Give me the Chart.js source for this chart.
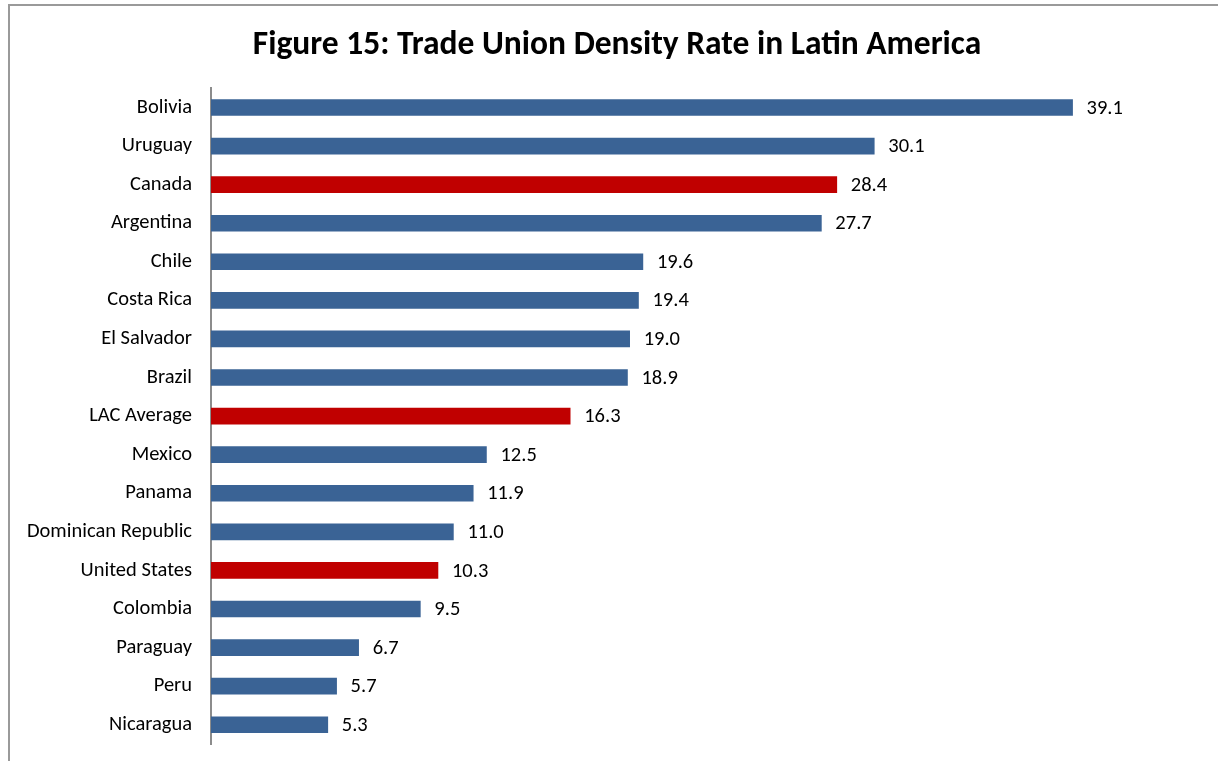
<!DOCTYPE html>
<html>
<head>
<meta charset="utf-8">
<script src="https://cdn.jsdelivr.net/npm/chart.js@4"></script>
<style>
html,body{margin:0;padding:0;background:#fff;}
#wrap{position:relative;width:1218px;height:761px;}
</style>
</head>
<body>
<div id="wrap"><canvas id="c" width="1218" height="761"></canvas></div>
<script>
const categories = ["Bolivia","Uruguay","Canada","Argentina","Chile","Costa Rica","El Salvador","Brazil","LAC Average","Mexico","Panama","Dominican Republic","United States","Colombia","Paraguay","Peru","Nicaragua"];
const densityRate = [39.1,30.1,28.4,27.7,19.6,19.4,19.0,18.9,16.3,12.5,11.9,11.0,10.3,9.5,6.7,5.7,5.3];
const highlighted = ["Canada","LAC Average","United States"];
const titleText = "Figure 15: Trade Union Density Rate in Latin America";

const FONT = "Carlito, Lato, 'Liberation Sans', sans-serif";
const BLUE = "#3A6395";
const RED = "#C00000";

const frame = {
  id: 'frame',
  beforeDraw(chart) {
    const ctx = chart.ctx;
    ctx.save();
    ctx.fillStyle = '#fff';
    ctx.fillRect(0,0,chart.width,chart.height);
    ctx.strokeStyle = '#9a9a9a';
    ctx.lineWidth = 2;
    ctx.beginPath();
    ctx.moveTo(9, chart.height);
    ctx.lineTo(9, 5);
    ctx.lineTo(chart.width, 5);
    ctx.stroke();
    ctx.restore();
  }
};

const valueLabels = {
  id: 'valueLabels',
  afterDatasetsDraw(chart) {
    const ctx = chart.ctx;
    const meta = chart.getDatasetMeta(0);
    ctx.save();
    ctx.font = "20.5px " + FONT;
    ctx.fillStyle = '#000';
    ctx.textAlign = 'left';
    ctx.textBaseline = 'middle';
    meta.data.forEach((el, i) => {
      ctx.fillText(densityRate[i].toFixed(1), el.x + 14, el.y + 1);
    });
    ctx.restore();
  }
};

new Chart(document.getElementById('c'), {
  type: 'bar',
  data: {
    labels: categories,
    datasets: [{
      data: densityRate,
      backgroundColor: categories.map(c => highlighted.includes(c) ? RED : BLUE),
      barThickness: 16
    }]
  },
  options: {
    indexAxis: 'y',
    responsive: false,
    animation: false,
    layout: { padding: { left: 16, right: 0, top: 0, bottom: 17 } },
    plugins: {
      legend: { display: false },
      tooltip: { enabled: false },
      title: {
        display: true,
        text: titleText,
        color: '#000',
        font: { family: FONT, size: 33.5, weight: 'bold' },
        padding: { top: 26, bottom: 22 }
      }
    },
    scales: {
      x: {
        display: false,
        min: 0,
        max: 45.7
      },
      y: {
        afterFit(scale) {
          scale.width = 195;
          scale.paddingTop = 0;
          scale.paddingBottom = 0;
        },
        grid: { display: false, drawTicks: false },
        border: { display: true, color: '#8c8c8c', width: 2 },
        ticks: {
          color: '#000',
          padding: 19,
          font: { family: FONT, size: 20.5 }
        }
      }
    }
  },
  plugins: [frame, valueLabels]
});
</script>
</body>
</html>
